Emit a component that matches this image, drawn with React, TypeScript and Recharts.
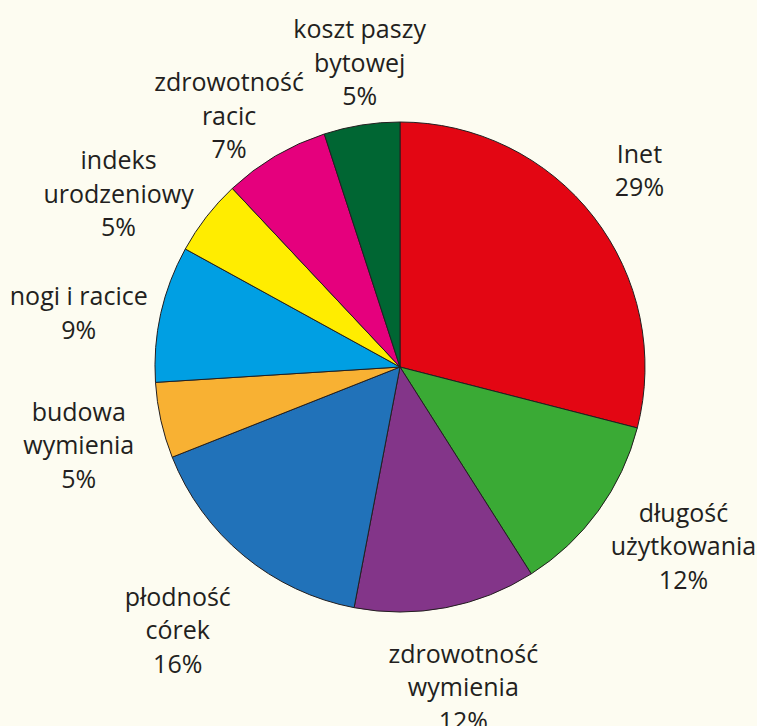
import { PieChart, Pie, Cell } from 'recharts';

const categories = [
  'Inet',
  'długość\nużytkowania',
  'zdrowotność\nwymienia',
  'płodność\ncórek',
  'budowa\nwymienia',
  'nogi i racice',
  'indeks\nurodzeniowy',
  'zdrowotność\nracic',
  'koszt paszy\nbytowej',
];
const shares = [29, 12, 12, 16, 5, 9, 5, 7, 5];
const colors = ['#e30613', '#3aaa35', '#833589', '#2172b9', '#f8b133', '#009fe3', '#ffed00', '#e5007d', '#006633'];

const data = categories.map((name, i) => ({ name, value: shares[i] }));

const RAD = Math.PI / 180;
const LINE_H = 33.5;
// hand tweaks so each label block sits where the original puts it
const nudge: [number, number][] = [
  [-15, 0], [23, -11], [3, 3], [-17, 14], [-7, 7], [-7, 15], [-27, 23], [-7, 25], [10, 13],
];

const renderLabel = (props: any) => {
  const { cx, cy, midAngle, payload, value, index } = props;
  const r = 322;
  const [nx, ny] = nudge[index] ?? [0, 0];
  const x = cx + r * Math.cos(-midAngle * RAD) + nx;
  const y = cy + r * Math.sin(-midAngle * RAD) + ny;
  const lines: string[] = [...String(payload.name).split('\n'), `${value}%`];
  const top = y - ((lines.length - 1) * LINE_H) / 2;
  return (
    <text x={x} y={top} textAnchor="middle" fill="#231f20" fontSize={25} fontFamily="'Open Sans', sans-serif">
      {lines.map((l, i) => (
        <tspan key={i} x={x} y={top + i * LINE_H} dominantBaseline="central">
          {l}
        </tspan>
      ))}
    </text>
  );
};

export default function App() {
  return (
    <div style={{ position: 'fixed', left: 0, top: 0, width: 757, height: 726, background: '#fdfcf1' }}>
      <PieChart width={757} height={726} margin={{ top: 0, right: 0, bottom: 0, left: 0 }}>
        <Pie
          data={data}
          dataKey="value"
          nameKey="name"
          cx={400}
          cy={367}
          outerRadius={245}
          startAngle={90}
          endAngle={-270}
          stroke="#231f20"
          strokeWidth={1}
          label={renderLabel}
          labelLine={false}
          isAnimationActive={false}
        >
          {data.map((d, i) => (
            <Cell key={d.name} fill={colors[i]} />
          ))}
        </Pie>
      </PieChart>
    </div>
  );
}
